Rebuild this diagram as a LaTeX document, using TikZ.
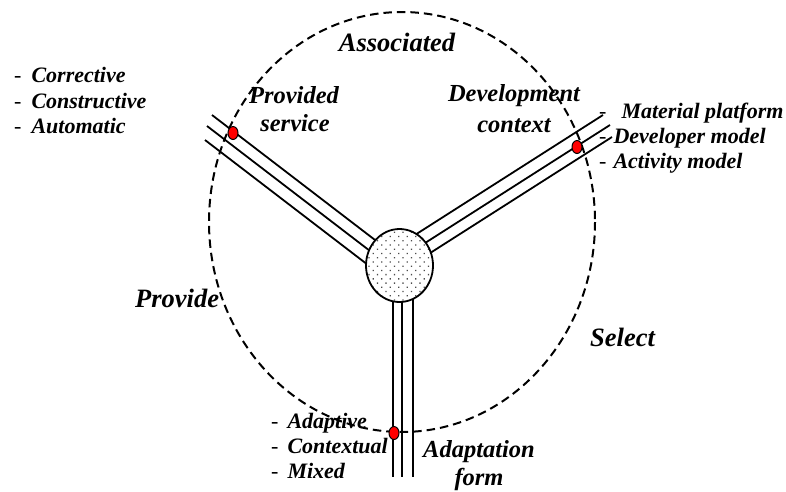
\documentclass[tikz,border=0pt]{standalone}
\usepackage{fontspec}
\setmainfont{Liberation Serif}
\usetikzlibrary{shapes.geometric,patterns.meta}
\begin{document}
\begin{tikzpicture}[x=1pt,y=-1pt,
  bandline/.style={line width=1.8pt},
  ring/.style={line width=2pt, dash pattern=on 8.5pt off 5pt},
  hub/.style={ellipse, draw, line width=1.8pt, minimum width=67pt, minimum height=73pt, inner sep=0pt,
    preaction={fill=white}, pattern={Dots[distance=6pt,angle=45,radius=0.9pt]}, pattern color=black!70},
  reddot/.style={ellipse, draw, line width=1pt, fill=red, minimum width=10pt, minimum height=13pt, inner sep=0pt},
  listitem/.style={font=\fontsize{22}{25}\selectfont\bfseries\itshape, anchor=base west, inner sep=0pt},
  lab/.style={font=\fontsize{24.5}{28}\selectfont\bfseries\itshape, align=center, inner sep=0pt},
  mainlab/.style={font=\fontsize{26.5}{28}\selectfont\bfseries\itshape, inner sep=0pt}
]
\useasboundingbox (0,0) rectangle (786,491);
\newcommand{\hy}{{\mdseries\upshape -}}

% bands: upper left
\coordinate (ula1) at (212,115); \coordinate (ulb1) at (392,253);
\coordinate (ula2) at (207,126); \coordinate (ulb2) at (387,264);
\coordinate (ula3) at (205,140); \coordinate (ulb3) at (385,278);
\draw[bandline] (ula1) -- (ulb1);
\draw[bandline] (ula2) -- (ulb2);
\draw[bandline] (ula3) -- (ulb3);
% upper right
\coordinate (ura1) at (603,115); \coordinate (urb1) at (403,242.6);
\coordinate (ura2) at (610,125); \coordinate (urb2) at (410,252.6);
\coordinate (ura3) at (612,137); \coordinate (urb3) at (412,264.6);
\draw[bandline] (ura1) -- (urb1);
\draw[bandline] (ura2) -- (urb2);
\draw[bandline] (ura3) -- (urb3);
% vertical
\coordinate (va1) at (393,270); \coordinate (vb1) at (393,477);
\coordinate (va2) at (402,270); \coordinate (vb2) at (402,477);
\coordinate (va3) at (413,270); \coordinate (vb3) at (413,477);
\draw[bandline] (va1) -- (vb1);
\draw[bandline] (va2) -- (vb2);
\draw[bandline] (va3) -- (vb3);

% hub
\node[hub] (hubnode) at (399.5,265.5) {};

% texts
\node[mainlab, anchor=base] (assoc) at (397,51) {Associated};
\node[mainlab, anchor=base west] (provide) at (135,307) {Provide};
\node[mainlab, anchor=base west] (select) at (590,346) {Select};

\node[lab, anchor=base] (prov1) at (294,103) {Provided};
\node[lab, anchor=base] (prov2) at (295,131) {service};
\node[lab, anchor=base] (dev1) at (514,101) {Development};
\node[lab, anchor=base] (dev2) at (514,132) {context};
\node[lab, anchor=base] (adp1) at (479,457) {Adaptation};
\node[lab, anchor=base] (adp2) at (479,485) {form};

\node[listitem] (l1) at (14,82) {\hy\hspace{10pt}Corrective};
\node[listitem] (l2) at (14,108) {\hy\hspace{10pt}Constructive};
\node[listitem] (l3) at (14,133) {\hy\hspace{10pt}Automatic};

\node[listitem] (r1) at (599,118) {\hy\hspace{15pt}Material platform};
\node[listitem] (r2) at (599,143) {\hy\hspace{7pt}Developer model};
\node[listitem] (r3) at (599,168) {\hy\hspace{7pt}Activity model};

\node[listitem] (b1) at (271,428) {\hy\hspace{9pt}Adaptive};
\node[listitem] (b2) at (271,453) {\hy\hspace{9pt}Contextual};
\node[listitem] (b3) at (271,478) {\hy\hspace{9pt}Mixed};

% dashed ring
\draw[ring] (402,222) ellipse [x radius=193, y radius=210];

% red dots
\node[reddot] (d1) at (233,133) {};
\node[reddot] (d2) at (577,147) {};
\node[reddot] (d3) at (394,433) {};
\end{tikzpicture}
\end{document}
